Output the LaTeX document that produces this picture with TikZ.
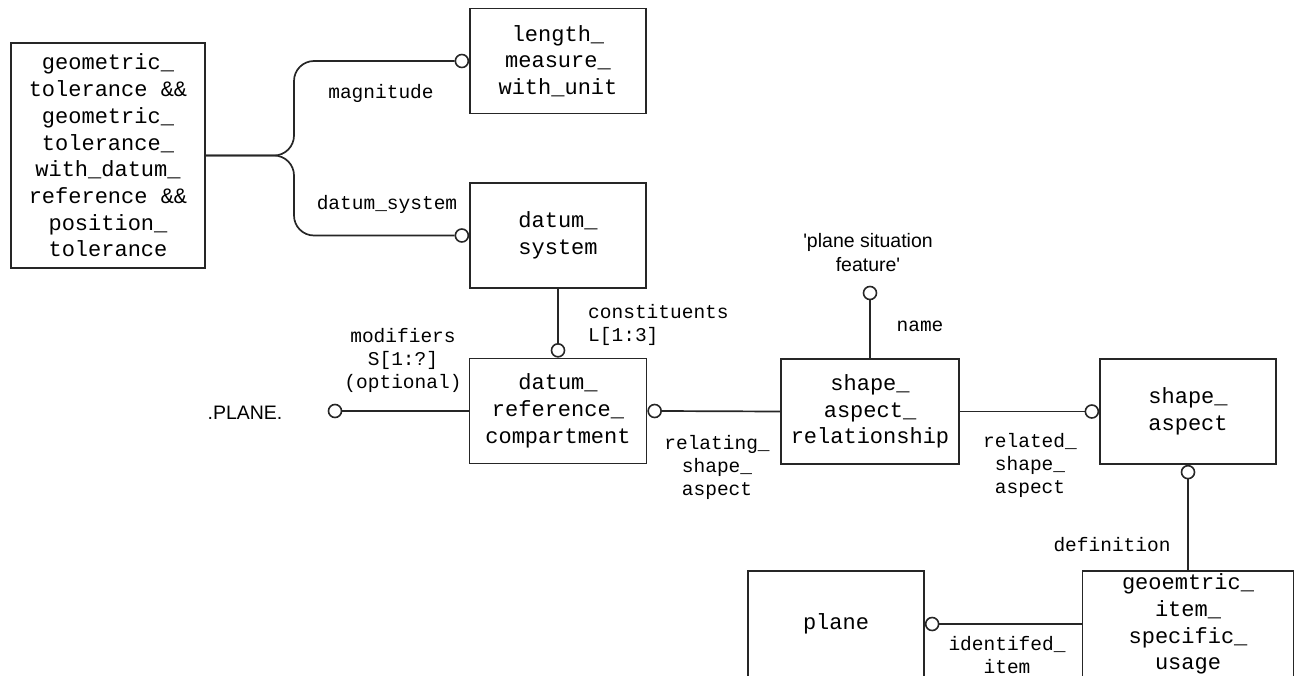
\documentclass[tikz,border=0pt]{standalone}
\usepackage{fontspec}
\setmonofont{Liberation Mono}
\newfontfamily\labelsans{Liberation Sans}
\usepackage{tikz}
\usetikzlibrary{positioning}

\begin{document}
\begin{tikzpicture}[
  x=1pt, y=-1pt,
  font=\ttfamily\fontsize{22}{26.7}\selectfont,
  ent/.style={rectangle, draw=black!85, line width=1.7pt, align=center,
              minimum width=176pt, minimum height=105pt, inner sep=2pt},
  ring/.style={circle, draw=black!85, line width=1.6pt, fill=white,
               inner sep=0pt, minimum size=13pt},
  role/.style={font=\ttfamily\fontsize{19.5}{23}\selectfont, align=center, inner sep=0pt},
  lit/.style={font=\labelsans\fontsize{19.5}{24}\selectfont, align=center, inner sep=0pt},
  rel/.style={draw=black!85, line width=1.7pt}
]
\useasboundingbox (0,0) rectangle (1295,675);
\node[ent, minimum width=194pt, minimum height=225pt] (gt) at (108,155.5)
  {geometric\_\\tolerance \&\&\\geometric\_\\tolerance\_\\with\_datum\_\\reference \&\&\\position\_\\tolerance};
\node[ent] (lm)    at (558,61)     {length\_\\measure\_\\with\_unit};
\node[ent] (ds)    at (558,235.5)  {datum\_\\system};
\node[ent, minimum width=177pt] (drc) at (558,411) {datum\_\\reference\_\\compartment};
\node[ent, minimum width=178pt] (sar) at (870,411.5) {shape\_\\aspect\_\\relationship};
\node[ent] (sa)    at (1188,411.5) {shape\_\\aspect};
\node[ent, minimum width=211pt, minimum height=106pt] (gisu) at (1188,624)
  {geoemtric\_\\item\_\\specific\_\\usage};
\node[ent, minimum height=106pt] (plane) at (836,624) {plane};
% optional ends
\node[ring, anchor=east]  (c_lm)   at (lm.west)    {};
\node[ring, anchor=east]  (c_ds)   at (ds.west)    {};
\node[ring, anchor=south] (c_con)  at (drc.north)  {};
\node[ring]               (c_mod)  at (335,411)    {};
\node[ring, anchor=west]  (c_rsa)  at (drc.east)   {};
\node[ring]               (c_name) at (870,293)    {};
\node[ring, anchor=east]  (c_dsa)  at (sa.west)    {};
\node[ring, anchor=north] (c_def)  at (sa.south)   {};
\node[ring, anchor=west]  (c_item) at (plane.east) {};
\coordinate (fork) at (294,155.5);
% relationships
\draw[rel, rounded corners=20pt] (gt.east) -- (fork) |- (c_lm.west);
\draw[rel, rounded corners=20pt] (gt.east) -- (fork) |- (c_ds.west);
\draw[rel] (ds.south)    -- (c_con.north);
\draw[rel] (c_mod.east)  -- (drc.west);
\draw[rel] (c_rsa.east)  -- (sar.west);
\draw[rel] (c_name.south) -- (sar.north);
\draw[rel] (sar.east)    -- (c_dsa.west);
\draw[rel] (c_def.south) -- (gisu.north);
\draw[rel] (gisu.west)   -- (c_item.east);
% attribute names
\node[role] (l_mag)  at (381,93)   {magnitude};
\node[role] (l_ds)   at (387,204)  {datum\_system};
\node[role, align=left, anchor=west] (l_con) at (588,324.5) {constituents\\L[1:3]};
\node[role] (l_mod)  at (403,360)  {modifiers\\S[1:?]\\(optional)};
\node[lit]  (l_plane) at (245,413) {.PLANE.};
\node[role] (l_rel)  at (717,467)  {relating\_\\shape\_\\aspect};
\node[lit]  (l_psf)  at (868,253)  {\textquotesingle plane situation\\feature\textquotesingle};
\node[role] (l_name) at (920,326)  {name};
\node[role] (l_rsa)  at (1030,465) {related\_\\shape\_\\aspect};
\node[role] (l_def)  at (1112,545) {definition};
\node[role] (l_item) at (1007,655) {identifed\_\\item};
\end{tikzpicture}
\end{document}
